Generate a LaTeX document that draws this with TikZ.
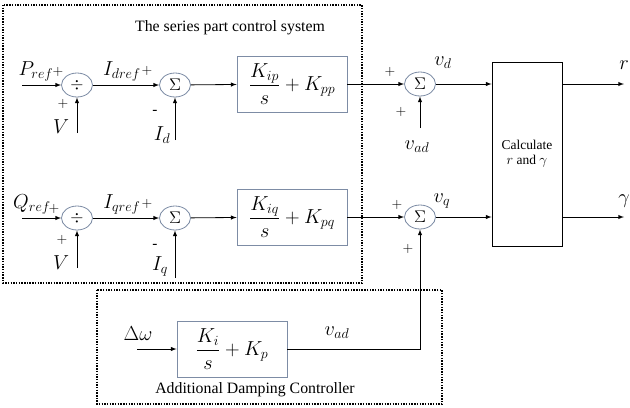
\documentclass[tikz,border=0pt]{standalone}
\usepackage{amsmath}
\usepackage{fontspec}
\setmainfont{Liberation Serif}
\definecolor{BlockGrey}{RGB}{125,140,165}
\usetikzlibrary{positioning,shapes,arrows,calc}
\tikzset{>=latex}
\tikzset{mysum/.style={ellipse,draw=BlockGrey,line width=0.7pt,minimum width=0.93cm,minimum height=0.72cm,inner sep=0pt,font=\fontsize{15}{17}\selectfont}}
\tikzset{myblock/.style={rectangle,draw=BlockGrey,line width=0.7pt,minimum width=3.3cm,minimum height=1.68cm,inner sep=0pt,font=\fontsize{17}{19}\selectfont}}
\tikzset{mylabel/.style={inner sep=0pt,font=\fontsize{18}{20}\selectfont}}
\tikzset{mysign/.style={inner sep=0pt,font=\fontsize{13}{15}\selectfont}}
\tikzset{mytitle/.style={inner sep=0pt,font=\fontsize{13.5}{15}\selectfont}}
\tikzset{myedges/.style={line width=0.7pt,->}}
\tikzset{mydotted/.style={line width=1.4pt,dash pattern=on 1.2pt off 1.1pt}}

\begin{document}
\begin{tikzpicture}[x=0.03cm,y=-0.03cm]
                \useasboundingbox (0,0) rectangle (630,407);
                \draw[mydotted] (3,5) rectangle (362,283);
                \draw[mydotted] (97,290) rectangle (442,404);
                \node[mytitle] (series) at (230,28) {The series part control system};
                \node[mytitle] (damping) at (255,390) {Additional Damping Controller};

                \node[mysum] (div1) at (77,85) {$\div$};
                \node[mysum] (sum1) at (175,85) {$\Sigma$};
                \node[myblock] (pi1) at (292,84) {$\dfrac{K_{ip}}{s}+K_{pp}$};
                \node[mysum] (sumd) at (420,84) {$\Sigma$};
                \node[mysum] (div2) at (77,218) {$\div$};
                \node[mysum] (sum2) at (175,218) {$\Sigma$};
                \node[myblock] (pi2) at (292,217) {$\dfrac{K_{iq}}{s}+K_{pq}$};
                \node[mysum] (sumq) at (420,217) {$\Sigma$};
                \node[rectangle,draw,line width=0.7pt,minimum width=2.1cm,minimum height=5.52cm,align=center,font=\fontsize{11.5}{13}\selectfont] (calc) at (527,154) {Calculate\\$r$ and $\gamma$};
                \node[myblock] (ctrl) at (232,349) {$\dfrac{K_{i}}{s}+K_{p}$};

                \coordinate (pin) at (22,85);
                \coordinate (vin1) at (77,133);
                \coordinate (idin) at (175,140);
                \coordinate (vadin) at (420,128);
                \coordinate (qin) at (22,218);
                \coordinate (vin2) at (77,268);
                \coordinate (iqin) at (175,278);
                \coordinate (win) at (137,349);
                \coordinate (rout) at (624,84);
                \coordinate (gout) at (624,217);

                \draw[myedges] (pin) -- (div1);
                \draw[myedges] (vin1) -- (div1);
                \draw[myedges] (div1) -- (sum1);
                \draw[myedges] (idin) -- (sum1);
                \draw[myedges] (sum1) -- (pi1);
                \draw[myedges] (pi1) -- (sumd);
                \draw[myedges] (vadin) -- (sumd);
                \draw[myedges] (sumd) -- (calc.west |- sumd);
                \draw[myedges] (calc.east |- sumd) -- (rout);
                \draw[myedges] (qin) -- (div2);
                \draw[myedges] (vin2) -- (div2);
                \draw[myedges] (div2) -- (sum2);
                \draw[myedges] (iqin) -- (sum2);
                \draw[myedges] (sum2) -- (pi2);
                \draw[myedges] (pi2) -- (sumq);
                \draw[myedges] (sumq) -- (calc.west |- sumq);
                \draw[myedges] (calc.east |- sumq) -- (gout);
                \draw[myedges] (win) -- (ctrl);
                \draw[myedges] (ctrl.east) -| (sumq.south);

                \node[mylabel] (pref) at (36,71) {$P_{ref}$};
                \node[mysign] (pplus) at (58,72) {$+$};
                \node[mylabel] (v1) at (61,127) {$V$};
                \node[mysign] (vplus1) at (63,104) {$+$};
                \node[mylabel] (idref) at (122,71) {$I_{dref}$};
                \node[mysign] (idplus) at (147,71) {$+$};
                \node[mysign] (idminus) at (155,112) {-};
                \node[mylabel] (id) at (162,135) {$I_{d}$};
                \node[mylabel] (vd) at (443,63) {$v_{d}$};
                \node[mysign] (vdplus) at (390,72) {$+$};
                \node[mysign] (vadplus) at (401,112) {$+$};
                \node[mylabel] (vad1) at (417,147) {$v_{ad}$};
                \node[mylabel] (r) at (624,65) {$r$};

                \node[mylabel] (qref) at (32,204) {$Q_{ref}$};
                \node[mysign] (qplus) at (54,209) {$+$};
                \node[mylabel] (v2) at (61,263) {$V$};
                \node[mysign] (vplus2) at (62,240) {$+$};
                \node[mylabel] (iqref) at (122,204) {$I_{qref}$};
                \node[mysign] (iqplus) at (147,204) {$+$};
                \node[mysign] (iqminus) at (155,246) {-};
                \node[mylabel] (iq) at (160,266) {$I_{q}$};
                \node[mylabel] (vq) at (442,201) {$v_{q}$};
                \node[mysign] (vqplus) at (397,205) {$+$};
                \node[mysign] (vadplus2) at (408,249) {$+$};
                \node[mylabel] (g) at (624,201) {$\gamma$};

                \node[mylabel] (dw) at (138,334) {$\Delta\omega$};
                \node[mylabel] (vad2) at (337,333) {$v_{ad}$};
            \end{tikzpicture}
\end{document}
